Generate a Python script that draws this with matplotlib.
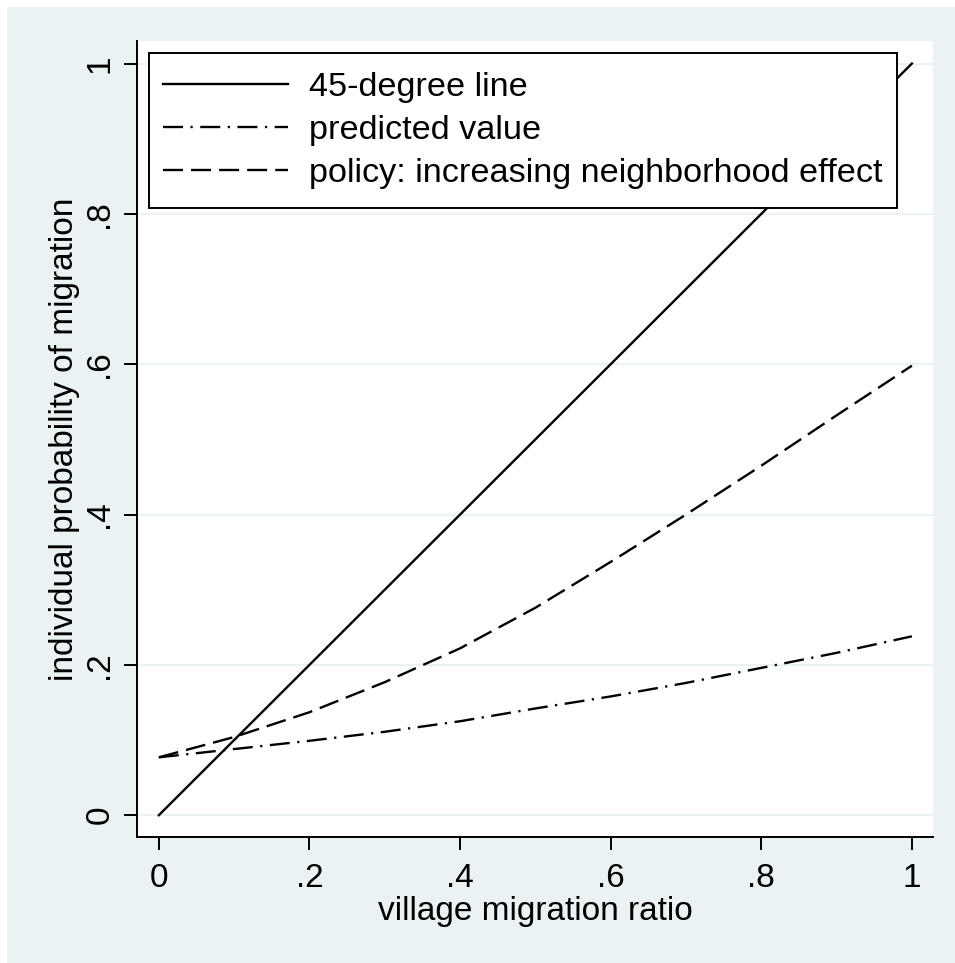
import matplotlib
matplotlib.use('Agg')
import matplotlib.pyplot as plt
from matplotlib.patches import Rectangle

# ---- data ----
x_ratio = [0.0, 0.1, 0.2, 0.3, 0.4, 0.5, 0.6, 0.7, 0.8, 0.9, 1.0]
predicted = [0.077, 0.088, 0.099, 0.111, 0.125, 0.142, 0.158, 0.176, 0.196, 0.216, 0.238]
policy = [0.077, 0.104, 0.137, 0.177, 0.222, 0.276, 0.337, 0.400, 0.465, 0.532, 0.598]
line45_x = [0.0, 1.0]
line45_y = [0.0, 1.0]
xticks = [0, 0.2, 0.4, 0.6, 0.8, 1.0]
xtick_labels = ['0', '.2', '.4', '.6', '.8', '1']
yticks = [0, 0.2, 0.4, 0.6, 0.8, 1.0]
ytick_labels = ['0', '.2', '.4', '.6', '.8', '1']
series_labels = ['45-degree line', 'predicted value',
                 'policy: increasing neighborhood effect']

plt.rcParams['font.family'] = ['Liberation Sans', 'DejaVu Sans']
plt.rcParams['lines.scale_dashes'] = False

W, H = 955, 963
BG = '#EAF2F3'
fig = plt.figure(figsize=(W / 100, H / 100), dpi=100, facecolor='white')
fig.patches.append(Rectangle((7 / W, 0), 1 - 7 / W, 1 - 7 / H,
                             transform=fig.transFigure, facecolor=BG,
                             edgecolor='none', zorder=-10))

ax = fig.add_axes([137 / W, 1 - 837 / H, (933 - 137) / W, (837 - 41) / H])
ax.set_facecolor('white')

lw = 1.7
ax.plot(line45_x, line45_y, color='black', lw=lw, linestyle='-',
        label=series_labels[0], zorder=3)
ax.plot(x_ratio, predicted, color='black', lw=lw,
        linestyle=(0, (14.4, 5.4, 1.6, 5.4)), label=series_labels[1], zorder=3)
ax.plot(x_ratio, policy, color='black', lw=lw,
        linestyle=(0, (14.4, 5.8)), label=series_labels[2], zorder=3)

ax.set_xlim(-0.029, 1.028)
ax.set_ylim(-0.029, 1.03)

ax.set_xticks(xticks)
ax.set_xticklabels(xtick_labels)
ax.set_yticks(yticks)
ax.set_yticklabels(ytick_labels, rotation=90, va='center')

ax.yaxis.grid(True, color=BG, lw=1.6, zorder=0)
ax.set_axisbelow(True)

for s in ['top', 'right']:
    ax.spines[s].set_visible(False)
for s in ['left', 'bottom']:
    ax.spines[s].set_linewidth(1.4)
    ax.spines[s].set_color('black')

ax.tick_params(axis='both', direction='out', length=9.5, width=1.4,
               labelsize=24, colors='black')
ax.tick_params(axis='x', pad=9)
ax.tick_params(axis='y', pad=6)

ax.set_xlabel('village migration ratio', fontsize=24, labelpad=2)
ax.set_ylabel('individual probability of migration', fontsize=24, labelpad=3)

# legend box (drawn separately for exact placement)
box = Rectangle((149 / W, 1 - 208 / H), (897 - 149) / W, (208 - 53) / H,
                transform=fig.transFigure, facecolor='white',
                edgecolor='black', lw=1.4, zorder=4, clip_on=False)
ax.add_patch(box)

leg = ax.legend(loc='upper left', bbox_to_anchor=(163 / W, 1 - 72 / H),
                bbox_transform=fig.transFigure, frameon=False, fontsize=24.7,
                handlelength=3.65, handletextpad=0.6, borderpad=0,
                labelspacing=0.35, borderaxespad=0)
leg.set_zorder(5)

fig.savefig('out.png', dpi=100, facecolor='white')
